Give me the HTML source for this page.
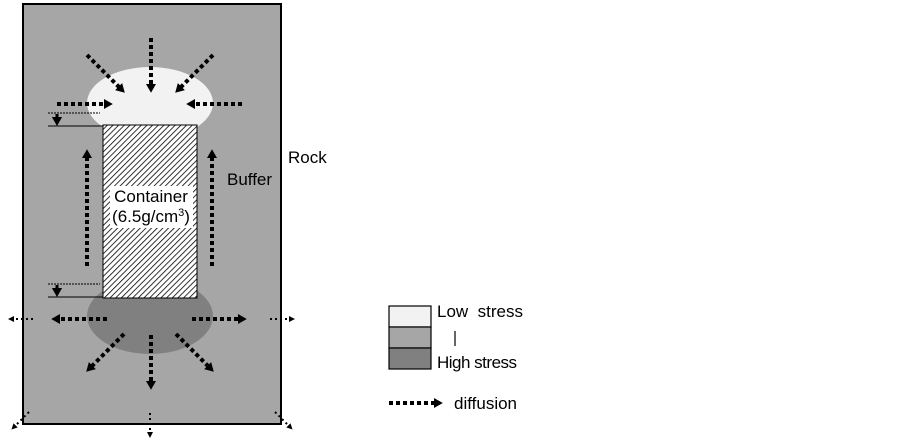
<!DOCTYPE html>
<html><head><style>body{margin:0;background:#fff}svg{display:block}text{font-family:"Liberation Sans",sans-serif;fill:#000}</style></head><body>
<svg width="903" height="440" viewBox="0 0 903 440" xmlns="http://www.w3.org/2000/svg">
<defs>
<pattern id="h" patternUnits="userSpaceOnUse" width="4" height="4" patternTransform="rotate(45)"><rect width="4" height="4" fill="#fff"/><line x1="0" y1="0" x2="0" y2="4" stroke="#000" stroke-width="1.6"/></pattern>
<marker id="a" markerWidth="2.5" markerHeight="3" refX="0.5" refY="1.25" orient="auto" markerUnits="strokeWidth"><path d="M0,0 L2.2,1.25 L0,2.5Z" fill="#000"/></marker>
<marker id="b" markerWidth="4" markerHeight="4" refX="0.5" refY="2" orient="auto" markerUnits="strokeWidth"><path d="M0,0.5 L3,2 L0,3.5Z" fill="#000"/></marker>
<marker id="s" markerWidth="4" markerHeight="4" refX="1" refY="2" orient="auto" markerUnits="strokeWidth"><path d="M0,0.3 L3,2 L0,3.7Z" fill="#000"/></marker>
</defs>
<rect x="23" y="4" width="258" height="420" fill="#a6a6a6" stroke="#000" stroke-width="2"/>
<ellipse cx="150" cy="103" rx="63" ry="36" fill="#f2f2f2"/>
<ellipse cx="150" cy="316" rx="63" ry="38" fill="#808080"/>
<rect x="103" y="125" width="94" height="173" fill="url(#h)" stroke="#000" stroke-width="1"/>
<rect x="110" y="186" width="83" height="42" fill="#fff"/>
<text x="151" y="202" font-size="17" text-anchor="middle">Container</text>
<text x="151" y="222" font-size="17" text-anchor="middle">(6.5g/cm<tspan font-size="11" dy="-6">3</tspan><tspan dy="6">)</tspan></text>
<text x="288" y="163" font-size="17">Rock</text>
<text x="227" y="185" font-size="17">Buffer</text>
<g stroke="#000" stroke-width="1">
<line x1="48" y1="113" x2="100" y2="113" stroke-dasharray="2 1"/><line x1="48" y1="126" x2="103" y2="126"/>
<line x1="48" y1="284" x2="100" y2="284" stroke-dasharray="2 1"/><line x1="48" y1="297" x2="103" y2="297"/>
</g>
<g stroke="#000" stroke-width="3">
<line x1="57" y1="114" x2="57" y2="120" marker-end="url(#s)"/>
<line x1="57" y1="285" x2="57" y2="291" marker-end="url(#s)"/>
</g>
<g stroke="#000" stroke-width="4" stroke-dasharray="4 3" fill="none" marker-end="url(#a)">
<line x1="151" y1="38" x2="151" y2="86"/>
<line x1="87" y1="55" x2="120" y2="88"/>
<line x1="213" y1="55" x2="180" y2="88"/>
<line x1="57" y1="104" x2="106" y2="104"/>
<line x1="242" y1="104" x2="193" y2="104"/>
<line x1="87" y1="266" x2="87" y2="156"/>
<line x1="212" y1="266" x2="212" y2="156"/>
<line x1="107" y1="319" x2="58" y2="319"/>
<line x1="192" y1="319" x2="240" y2="319"/>
<line x1="124" y1="334" x2="91" y2="367"/>
<line x1="176" y1="334" x2="209" y2="367"/>
<line x1="151" y1="335" x2="151" y2="383"/>
<line x1="389" y1="403" x2="436" y2="403"/>
</g>
<g stroke="#000" stroke-width="2" stroke-dasharray="2 3" fill="none" marker-end="url(#b)">
<line x1="33" y1="319" x2="13" y2="319"/>
<line x1="270" y1="319" x2="290" y2="319"/>
<line x1="29" y1="412" x2="15" y2="426"/>
<line x1="275" y1="412" x2="289" y2="426"/>
<line x1="150" y1="413" x2="150" y2="433"/>
</g>
<g stroke="#000" stroke-width="1.2">
<rect x="389" y="306" width="42" height="21" fill="#f2f2f2"/>
<rect x="389" y="327" width="42" height="21" fill="#a6a6a6"/>
<rect x="389" y="348" width="42" height="21" fill="#808080"/>
<line x1="455" y1="331" x2="455" y2="346"/>
</g>
<text x="437" y="317" font-size="17" xml:space="preserve">Low  stress</text>
<text x="437" y="368" font-size="17" letter-spacing="-0.5">High stress</text>
<text x="454" y="409" font-size="17">diffusion</text>
</svg>
</body></html>
